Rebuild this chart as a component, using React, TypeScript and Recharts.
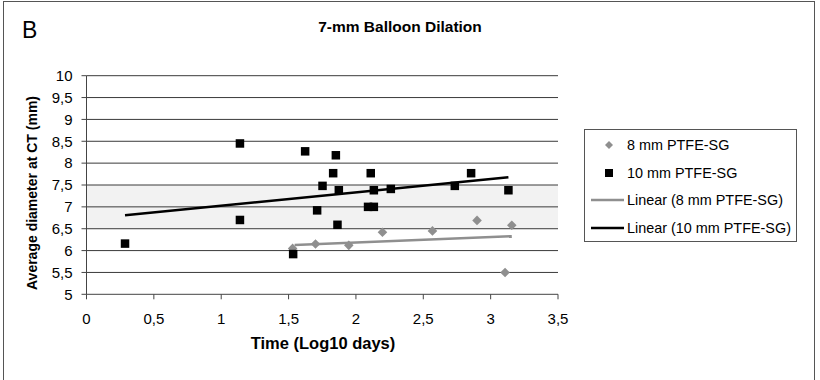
import React from 'react';
import { ScatterChart, Scatter, XAxis, YAxis, ReferenceArea, ReferenceLine } from 'recharts';

const xTicks = [0, 0.5, 1, 1.5, 2, 2.5, 3, 3.5];
const yTicks = [5, 5.5, 6, 6.5, 7, 7.5, 8, 8.5, 9, 9.5, 10];
const gridLevels = [5.5, 6, 6.5, 7, 7.5, 8, 8.5, 9, 9.5, 10];

const x8 = [1.53, 1.70, 1.947, 2.197, 2.568, 2.899, 3.157, 3.107];
const y8 = [6.05, 6.15, 6.12, 6.42, 6.45, 6.69, 6.58, 5.50];

const x10 = [0.286, 1.139, 1.139, 1.534, 1.623, 1.712, 1.752, 1.831, 1.851, 1.863, 1.873, 2.09, 2.11, 2.133, 2.133, 2.259, 2.734, 2.855, 3.132];
const y10 = [6.16, 8.45, 6.70, 5.92, 8.27, 6.92, 7.48, 7.77, 8.18, 6.59, 7.38, 7.0, 7.77, 7.38, 7.0, 7.41, 7.48, 7.77, 7.38];

const trend8X = [1.545, 3.157];
const trend8Y = [6.13, 6.33];
const trend10X = [0.286, 3.132];
const trend10Y = [6.81, 7.675];

const legendLabels = ['8 mm PTFE-SG', '10 mm PTFE-SG', 'Linear (8 mm PTFE-SG)', 'Linear (10 mm PTFE-SG)'];

const zip = (xs: number[], ys: number[]) => xs.map((x, i) => ({ x, y: ys[i] }));

const data8 = zip(x8, y8);
const data10 = zip(x10, y10);
const dataT8 = zip(trend8X, trend8Y);
const dataT10 = zip(trend10X, trend10Y);

const GRAY = '#8f8f8f';
const FONT = '"Liberation Sans", Arial, sans-serif';

const Diamond = (props: any) => {
  const { cx, cy } = props;
  const r = 4.8;
  return <path d={`M${cx},${cy - r}L${cx + r},${cy}L${cx},${cy + r}L${cx - r},${cy}Z`} fill={GRAY} />;
};
const Square = (props: any) => {
  const { cx, cy } = props;
  const s = 8.5;
  return <rect x={cx - s / 2} y={cy - s / 2} width={s} height={s} fill="#000" />;
};
const NoShape = () => <g />;

const fmt = (v: number) => String(v).replace('.', ',');

export default function App() {
  return (
    <div style={{ position: 'absolute', left: 0, top: 0, width: 820, height: 380, overflow: 'hidden', background: '#fff', fontFamily: FONT }}>
      <div style={{ position: 'absolute', left: 3, top: 1, width: 812, height: 420, border: '1.5px solid #555', boxSizing: 'border-box' }} />
      <ScatterChart width={820} height={380} margin={{ top: 75.7, right: 262, bottom: 55.7, left: 46.5 }} style={{ position: 'absolute', left: 0, top: 0 }}>
        <XAxis
          type="number"
          dataKey="x"
          domain={[0, 3.5]}
          ticks={xTicks}
          tickFormatter={fmt}
          interval={0}
          height={30}
          tick={{ fontSize: 15, fill: '#000', fontFamily: FONT }}
          tickSize={5}
          tickMargin={14}
          axisLine={{ stroke: '#444' }}
          tickLine={{ stroke: '#444' }}
          allowDataOverflow
        />
        <YAxis
          type="number"
          dataKey="y"
          domain={[5, 10]}
          ticks={yTicks}
          tickFormatter={fmt}
          interval={0}
          width={40}
          tick={{ fontSize: 15, fill: '#000', fontFamily: FONT }}
          tickSize={5}
          tickMargin={9}
          axisLine={{ stroke: '#444' }}
          tickLine={{ stroke: '#444' }}
          allowDataOverflow
        />
        <ReferenceArea y1={6.5} y2={7.5} x1={0} x2={3.5} fill="#f2f2f2" fillOpacity={1} stroke="none" />
        {gridLevels.map((g) => (
          <ReferenceLine key={g} y={g} stroke="#3a3a3a" strokeWidth={1} />
        ))}
        <Scatter data={dataT8} line={{ stroke: GRAY, strokeWidth: 2.5 }} shape={NoShape} isAnimationActive={false} />
        <Scatter data={dataT10} line={{ stroke: '#000', strokeWidth: 2.5 }} shape={NoShape} isAnimationActive={false} />
        <Scatter data={data8} shape={Diamond} isAnimationActive={false} />
        <Scatter data={data10} shape={Square} isAnimationActive={false} />
      </ScatterChart>

      <div style={{ position: 'absolute', left: 22, top: 17, fontSize: 23, color: '#000' }}>B</div>
      <div style={{ position: 'absolute', left: 400, top: 27, transform: 'translate(-50%,-50%)', fontSize: 15.5, fontWeight: 'bold', whiteSpace: 'nowrap' }}>7-mm Balloon Dilation</div>
      <div style={{ position: 'absolute', left: 323, top: 343, transform: 'translate(-50%,-50%)', fontSize: 16.5, fontWeight: 'bold', whiteSpace: 'nowrap' }}>Time (Log10 days)</div>
      <div style={{ position: 'absolute', left: 32, top: 193, transform: 'translate(-50%,-50%) rotate(-90deg)', fontSize: 14, fontWeight: 'bold', whiteSpace: 'nowrap' }}>Average diameter at CT (mm)</div>

      <div style={{ position: 'absolute', left: 584, top: 129, width: 213, height: 113, border: '1px solid #555', boxSizing: 'border-box', fontSize: 14.4 }}>
        {legendLabels.map((lab, i) => (
          <div key={lab} style={{ position: 'absolute', left: 0, top: 5 + i * 27.5, height: 20, width: 212, display: 'flex', alignItems: 'center' }}>
            <svg width={42} height={20} style={{ flex: 'none' }}>
              {i === 0 && <path d="M24,6L28,10L24,14L20,10Z" fill={GRAY} />}
              {i === 1 && <rect x={20} y={6} width={8} height={8} fill="#000" />}
              {i === 2 && <line x1={6} x2={39} y1={10} y2={10} stroke={GRAY} strokeWidth={2.5} />}
              {i === 3 && <line x1={6} x2={39} y1={10} y2={10} stroke="#000" strokeWidth={2.5} />}
            </svg>
            <span style={{ whiteSpace: 'nowrap' }}>{lab}</span>
          </div>
        ))}
      </div>
    </div>
  );
}
